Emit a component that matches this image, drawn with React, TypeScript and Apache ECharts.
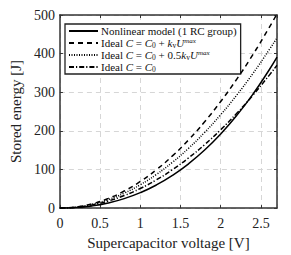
import React, { useEffect, useRef } from "react";
import * as echarts from "echarts";

const voltage = [0, 0.2, 0.4, 0.6, 0.8, 1.0, 1.2, 1.4, 1.6, 1.8, 2.0, 2.2, 2.4, 2.6, 2.7];
const nonlinear = [0, 1.3, 5.6, 13.3, 24.6, 40, 59.9, 84.7, 114.7, 150.3, 192, 240.1, 294.9, 356.9, 390.8];
const idealFull = [0, 2.8, 11, 24.8, 44.2, 69, 99.4, 135.2, 176.6, 223.6, 276, 334, 397.4, 466.4, 503];
const idealHalf = [0, 2.4, 9.7, 21.8, 38.7, 60.5, 87.1, 118.6, 154.9, 196, 242, 292.8, 348.5, 409, 441];
const idealC0 = [0, 2, 8.1, 18.3, 32.5, 50.8, 73.1, 99.5, 129.9, 164.4, 203, 245.6, 292.3, 343.1, 370];

const seriesNames = [
  "Nonlinear model (1 RC group)",
  "Ideal C = C0 + kv Umax",
  "Ideal C = C0 + 0.5kv Umax",
  "Ideal C = C0",
];
const legendLabels = [
  "Nonlinear model (1 RC group)",
  "Ideal {i|C} = {i|C}{s|0} + {i|k}{s|v}{i|U}{p|max}",
  "Ideal {i|C} = {i|C}{s|0} + 0.5{i|k}{s|v}{i|U}{p|max}",
  "Ideal {i|C} = {i|C}{s|0}",
];
const dashTypes: any[] = ["solid", [5, 4], [1, 1.5], [5, 2, 1.2, 2]];
const seriesValues = [nonlinear, idealFull, idealHalf, idealC0];

const FONT = "'Liberation Serif', 'DejaVu Serif', serif";

export default function App() {
  const ref = useRef<HTMLDivElement>(null);
  useEffect(() => {
    if (!ref.current) return;
    const chart = echarts.init(ref.current, undefined, { renderer: "svg" });
    const gridLine = { show: true, lineStyle: { color: "#d6d6d6", type: [5, 4] as any, width: 1 } };
    chart.setOption({
      animation: false,
      backgroundColor: "#fff",
      grid: { left: 58, top: 15, right: 14, bottom: 42 },
      legend: {
        orient: "vertical",
        left: 65,
        top: 24,
        itemWidth: 29,
        itemHeight: 10,
        itemGap: 0,
        padding: [1, 4, 1, 3],
        borderColor: "#222",
        borderWidth: 1.3,
        backgroundColor: "#fff",
        itemStyle: { opacity: 0 },
        data: seriesNames,
        formatter: (name: string) => legendLabels[seriesNames.indexOf(name)],
        textStyle: {
          fontFamily: FONT,
          fontSize: 11,
          lineHeight: 12,
          color: "#111",
          padding: [0, 0, 0, -2],
          rich: {
            i: { fontFamily: FONT, fontStyle: "italic", fontSize: 11, lineHeight: 12, color: "#111" },
            s: { fontFamily: FONT, fontSize: 7.5, lineHeight: 8, color: "#111", padding: [4, 0, 0, 0] },
            p: { fontFamily: FONT, fontStyle: "italic", fontSize: 7, lineHeight: 7, color: "#111", padding: [0, 0, 5, 0] },
          },
        },
      },
      xAxis: [
        {
          type: "value",
          min: 0,
          max: 2.7,
          interval: 0.5,
          name: "Supercapacitor voltage [V]",
          nameLocation: "middle",
          nameGap: 26,
          nameTextStyle: { fontFamily: FONT, fontSize: 15, color: "#222" },
          axisLine: { show: true, onZero: false, lineStyle: { color: "#333", width: 1.5 } },
          axisTick: { show: true, inside: true, length: 3, lineStyle: { color: "#333" } },
          axisLabel: { fontFamily: FONT, fontSize: 14, color: "#222", margin: 8, showMaxLabel: false },
          splitLine: gridLine,
        },
        {
          type: "value",
          position: "top",
          min: 0,
          max: 2.7,
          interval: 0.5,
          axisLine: { show: true, onZero: false, lineStyle: { color: "#333", width: 1.5 } },
          axisTick: { show: true, inside: true, length: 3, lineStyle: { color: "#333" } },
          axisLabel: { show: false },
          splitLine: { show: false },
        },
      ],
      yAxis: [
        {
          type: "value",
          min: 0,
          max: 500,
          interval: 100,
          name: "Stored energy [J]",
          nameLocation: "middle",
          nameGap: 31,
          nameTextStyle: { fontFamily: FONT, fontSize: 15, color: "#222" },
          axisLine: { show: true, onZero: false, lineStyle: { color: "#333", width: 1.5 } },
          axisTick: { show: true, inside: true, length: 3, lineStyle: { color: "#333" } },
          axisLabel: { fontFamily: FONT, fontSize: 14, color: "#222", margin: 5 },
          splitLine: gridLine,
        },
        {
          type: "value",
          position: "right",
          min: 0,
          max: 500,
          interval: 100,
          axisLine: { show: true, onZero: false, lineStyle: { color: "#333", width: 1.5 } },
          axisTick: { show: true, inside: true, length: 3, lineStyle: { color: "#333" } },
          axisLabel: { show: false },
          splitLine: { show: false },
        },
      ],
      series: seriesNames.map((name, k) => ({
        name,
        type: "line",
        smooth: true,
        symbol: "none",
        clip: true,
        xAxisIndex: 0,
        yAxisIndex: 0,
        data: voltage.map((u, j) => [u, seriesValues[k][j]]),
        lineStyle: { color: "#000", width: 1.5, type: dashTypes[k] },
        itemStyle: { color: "#000" },
        z: 10 - k,
      })),
    });
    return () => chart.dispose();
  }, []);
  return <div ref={ref} style={{ width: 291, height: 255, position: "absolute", left: 0, top: 0 }} />;
}
